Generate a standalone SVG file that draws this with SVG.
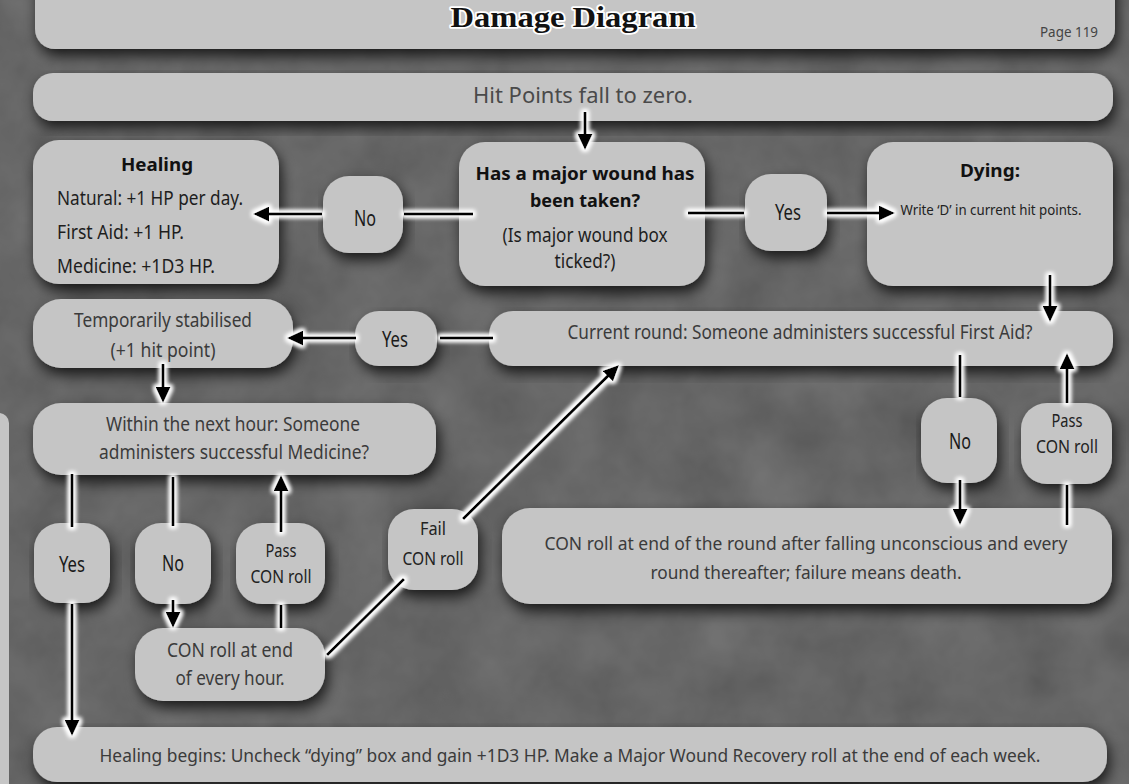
<svg xmlns="http://www.w3.org/2000/svg" width="1129" height="784" viewBox="0 0 1129 784">
<defs>
<style>
.box{fill:#c5c5c5;filter:url(#shadow)}
.t{font-family:"Noto Sans","DejaVu Sans",sans-serif;font-size:20px;fill:#3b3b3b;text-anchor:middle}
.l{text-anchor:start;fill:#1e1e1e}
.b{font-weight:bold;fill:#111;font-size:18px}
.k{fill:#1a1a1a;font-size:21px}
.c{fill:#222;font-size:18px}
.title{font-family:"Liberation Serif","DejaVu Serif",serif;font-weight:bold;font-size:30px;fill:#111;stroke:#fff;stroke-width:3.5px;paint-order:stroke;stroke-linejoin:round;text-anchor:middle}
.ln{fill:none;stroke:#000;stroke-width:3}
.ar{marker-end:url(#ah)}
</style>
<filter id="noise" x="0" y="0" width="1129" height="784" filterUnits="userSpaceOnUse">
<feTurbulence type="fractalNoise" baseFrequency="0.015" numOctaves="4" seed="7"/>
<feColorMatrix type="matrix" values="0.33 0.33 0.33 0 0 0.33 0.33 0.33 0 0 0.33 0.33 0.33 0 0 0 0 0 0 1"/>
</filter>
<filter id="shadow" x="-10%" y="-20%" width="125%" height="150%">
<feGaussianBlur in="SourceAlpha" stdDeviation="7"/>
<feOffset dx="3" dy="7" result="o"/>
<feFlood flood-color="#000" flood-opacity="0.75"/>
<feComposite in2="o" operator="in" result="s"/>
<feMerge><feMergeNode in="s"/><feMergeNode in="SourceGraphic"/></feMerge>
</filter>
<filter id="glow" x="0" y="0" width="1129" height="784" filterUnits="userSpaceOnUse">
<feMorphology in="SourceAlpha" operator="dilate" radius="1.5" result="d"/>
<feGaussianBlur in="d" stdDeviation="2" result="bl"/>
<feFlood flood-color="#fff"/>
<feComposite in2="bl" operator="in" result="g"/>
<feMerge><feMergeNode in="g"/><feMergeNode in="g"/><feMergeNode in="SourceGraphic"/></feMerge>
</filter>
<marker id="ah" markerUnits="userSpaceOnUse" markerWidth="16" markerHeight="15" refX="4" refY="7.5" orient="auto" viewBox="0 0 16 15">
<path d="M0,0 L16,7.5 L0,15 Z" fill="#000"/>
</marker>
</defs>

<rect width="1129" height="784" fill="#424242"/>
<rect width="1129" height="784" filter="url(#noise)" opacity="0.3"/>

<g id="left-panel"><rect x="-20" y="413" width="29" height="400" rx="10" fill="#c5c5c5"/></g>

<g id="title-bar">
<rect class="box" x="35" y="-30" width="1080" height="79" rx="20"/>
<text class="title" x="573" y="27" textLength="245" lengthAdjust="spacingAndGlyphs">Damage Diagram</text>
<text class="t" x="1069" y="37" style="font-size:15px;fill:#444" textLength="58" lengthAdjust="spacingAndGlyphs">Page 119</text>
</g>

<g id="hit-points">
<rect class="box" x="33" y="73" width="1080" height="48" rx="20"/>
<text class="t" x="583" y="103" style="font-size:21px;fill:#4a4a4a" textLength="220" lengthAdjust="spacingAndGlyphs">Hit Points fall to zero.</text>
</g>

<g id="healing">
<rect class="box" x="33" y="140" width="246" height="144" rx="26"/>
<text class="t b" x="157" y="171" textLength="72" lengthAdjust="spacingAndGlyphs">Healing</text>
<text class="t l" x="57" y="205" textLength="186" lengthAdjust="spacingAndGlyphs">Natural: +1 HP per day.</text>
<text class="t l" x="57" y="239" textLength="127" lengthAdjust="spacingAndGlyphs">First Aid: +1 HP.</text>
<text class="t l" x="57" y="273" textLength="158" lengthAdjust="spacingAndGlyphs">Medicine: +1D3 HP.</text>
</g>

<g id="no-1">
<rect class="box" x="323" y="176" width="80" height="77" rx="26"/>
<text class="t k" x="365" y="226" textLength="22" lengthAdjust="spacingAndGlyphs">No</text>
</g>

<g id="major-wound">
<rect class="box" x="459" y="142" width="246" height="144" rx="26"/>
<text class="t b" x="585" y="180" textLength="219" lengthAdjust="spacingAndGlyphs">Has a major wound has</text>
<text class="t b" x="585" y="207" textLength="110" lengthAdjust="spacingAndGlyphs">been taken?</text>
<text class="t" x="585" y="242" style="fill:#1e1e1e" textLength="165" lengthAdjust="spacingAndGlyphs">(Is major wound box</text>
<text class="t" x="585" y="268" style="fill:#1e1e1e" textLength="61" lengthAdjust="spacingAndGlyphs">ticked?)</text>
</g>

<g id="yes-1">
<rect class="box" x="745" y="174" width="82" height="77" rx="26"/>
<text class="t k" x="788" y="220" textLength="26" lengthAdjust="spacingAndGlyphs">Yes</text>
</g>

<g id="dying">
<rect class="box" x="867" y="142" width="246" height="144" rx="26"/>
<text class="t b" x="990" y="177" textLength="60" lengthAdjust="spacingAndGlyphs">Dying:</text>
<text class="t c" x="991" y="215" style="font-size:15px" textLength="181" lengthAdjust="spacingAndGlyphs">Write ‘D’ in current hit points.</text>
</g>

<g id="stabilised">
<rect class="box" x="33" y="299" width="260" height="69" rx="28"/>
<text class="t" x="163" y="327" textLength="178" lengthAdjust="spacingAndGlyphs">Temporarily stabilised</text>
<text class="t" x="163" y="357" textLength="105" lengthAdjust="spacingAndGlyphs">(+1 hit point)</text>
</g>

<g id="yes-2">
<rect class="box" x="355" y="311" width="82" height="55" rx="24"/>
<text class="t k" x="395" y="347" textLength="26" lengthAdjust="spacingAndGlyphs">Yes</text>
</g>

<g id="first-aid">
<rect class="box" x="489" y="311" width="624" height="55" rx="24"/>
<text class="t" x="800" y="339" textLength="465" lengthAdjust="spacingAndGlyphs">Current round: Someone administers successful First Aid?</text>
</g>

<g id="medicine">
<rect class="box" x="33" y="403" width="403" height="72" rx="28"/>
<text class="t" x="233" y="431" textLength="254" lengthAdjust="spacingAndGlyphs">Within the next hour: Someone</text>
<text class="t" x="234" y="459" textLength="270" lengthAdjust="spacingAndGlyphs">administers successful Medicine?</text>
</g>

<g id="no-3">
<rect class="box" x="921" y="398" width="76" height="85" rx="26"/>
<text class="t k" x="960" y="449" textLength="22" lengthAdjust="spacingAndGlyphs">No</text>
</g>

<g id="pass-2">
<rect class="box" x="1021" y="403" width="91" height="81" rx="26"/>
<text class="t c" x="1067" y="427" textLength="31" lengthAdjust="spacingAndGlyphs">Pass</text>
<text class="t c" x="1067" y="453" textLength="62" lengthAdjust="spacingAndGlyphs">CON roll</text>
</g>

<g id="con-round">
<rect class="box" x="502" y="508" width="610" height="96" rx="28"/>
<text class="t" x="806" y="550" style="font-size:17.5px" textLength="523" lengthAdjust="spacingAndGlyphs">CON roll at end of the round after falling unconscious and every</text>
<text class="t" x="806" y="579" style="font-size:17.5px" textLength="311" lengthAdjust="spacingAndGlyphs">round thereafter; failure means death.</text>
</g>

<g id="yes-3">
<rect class="box" x="34" y="523" width="76" height="80" rx="26"/>
<text class="t k" x="72" y="572" textLength="26" lengthAdjust="spacingAndGlyphs">Yes</text>
</g>

<g id="no-2">
<rect class="box" x="135" y="523" width="76" height="81" rx="26"/>
<text class="t k" x="173" y="571" textLength="22" lengthAdjust="spacingAndGlyphs">No</text>
</g>

<g id="pass-1">
<rect class="box" x="236" y="523" width="89" height="81" rx="26"/>
<text class="t c" x="281" y="557" textLength="31" lengthAdjust="spacingAndGlyphs">Pass</text>
<text class="t c" x="281" y="583" textLength="61" lengthAdjust="spacingAndGlyphs">CON roll</text>
</g>

<g id="fail">
<rect class="box" x="388" y="509" width="90" height="81" rx="26"/>
<text class="t c" x="433" y="535" textLength="26" lengthAdjust="spacingAndGlyphs">Fail</text>
<text class="t c" x="433" y="565" textLength="61" lengthAdjust="spacingAndGlyphs">CON roll</text>
</g>

<g id="con-hour">
<rect class="box" x="135" y="628" width="190" height="73" rx="28"/>
<text class="t" x="230" y="657" textLength="126" lengthAdjust="spacingAndGlyphs">CON roll at end</text>
<text class="t" x="230" y="685" textLength="109" lengthAdjust="spacingAndGlyphs">of every hour.</text>
</g>

<g id="healing-begins">
<rect class="box" x="33" y="727" width="1074" height="55" rx="24"/>
<text class="t" x="570" y="762" style="font-size:17.5px" textLength="941" lengthAdjust="spacingAndGlyphs">Healing begins: Uncheck “dying” box and gain +1D3 HP. Make a Major Wound Recovery roll at the end of each week.</text>
</g>

<g id="connectors" filter="url(#glow)">
<line class="ln ar" x1="585" y1="112" x2="585" y2="138"/>
<line class="ln" x1="473" y1="214" x2="404" y2="214"/>
<line class="ln ar" x1="322" y1="214" x2="265" y2="214"/>
<line class="ln" x1="688" y1="213" x2="744" y2="213"/>
<line class="ln ar" x1="827" y1="213" x2="883" y2="213"/>
<line class="ln ar" x1="1050" y1="275" x2="1050" y2="310"/>
<line class="ln" x1="493" y1="338" x2="440" y2="338"/>
<line class="ln ar" x1="356" y1="338" x2="299" y2="338"/>
<line class="ln ar" x1="163" y1="364" x2="163" y2="391"/>
<line class="ln" x1="960" y1="355" x2="960" y2="397"/>
<line class="ln ar" x1="960" y1="480" x2="960" y2="513"/>
<line class="ln" x1="1067" y1="525" x2="1067" y2="485"/>
<line class="ln ar" x1="1067" y1="403" x2="1067" y2="365"/>
<line class="ln" x1="72" y1="474" x2="72" y2="527"/>
<line class="ln ar" x1="72" y1="604" x2="72" y2="724"/>
<line class="ln" x1="173" y1="477" x2="173" y2="526"/>
<line class="ln ar" x1="173" y1="600" x2="173" y2="616"/>
<line class="ln" x1="281" y1="628" x2="281" y2="605"/>
<line class="ln ar" x1="281" y1="532" x2="281" y2="487"/>
<line class="ln" x1="327" y1="655" x2="404" y2="579"/>
<line class="ln ar" x1="463" y1="519" x2="610.5" y2="373.4"/>
</g>
</svg>
